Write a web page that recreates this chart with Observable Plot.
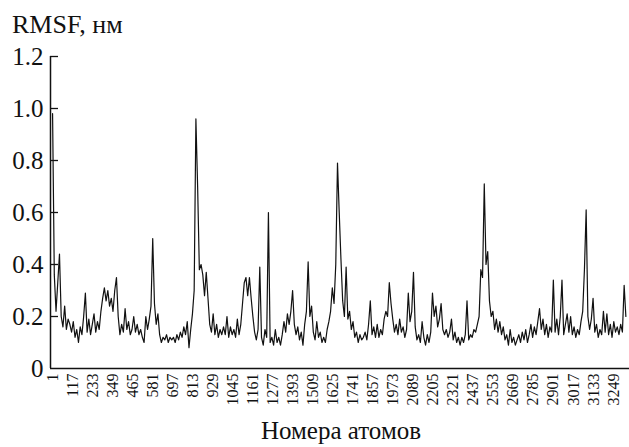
<!DOCTYPE html>
<html>
<head>
<meta charset="utf-8">
<script src="https://cdn.jsdelivr.net/npm/d3@7"></script>
<script src="https://cdn.jsdelivr.net/npm/@observablehq/plot@0.6"></script>
<style>
  html, body { margin: 0; padding: 0; background: #fff; }
  #chart svg { display: block; }
  #chart svg, #chart svg text { font-family: "Liberation Serif", "Times New Roman", serif !important; }
</style>
</head>
<body>
<div id="chart"></div>
<script>
// RMSF (nm) per atom, one value every 10 atoms starting at atom 1
const rmsf = [
  0.98, 0.36, 0.22, 0.33, 0.44, 0.20, 0.16, 0.24, 0.15, 0.19,
  0.17, 0.14, 0.18, 0.12, 0.15, 0.10, 0.16, 0.13, 0.20, 0.29,
  0.14, 0.19, 0.13, 0.17, 0.21, 0.14, 0.18, 0.15, 0.22, 0.27,
  0.31, 0.26, 0.30, 0.24, 0.27, 0.22, 0.30, 0.35, 0.20, 0.13,
  0.17, 0.14, 0.23, 0.15, 0.18, 0.13, 0.15, 0.20, 0.14, 0.17,
  0.13, 0.15, 0.12, 0.10, 0.20, 0.15, 0.19, 0.24, 0.50, 0.25,
  0.17, 0.21, 0.13, 0.10, 0.12, 0.11, 0.13, 0.10, 0.12, 0.11,
  0.12, 0.10, 0.13, 0.11, 0.14, 0.12, 0.16, 0.13, 0.18, 0.08,
  0.15, 0.21, 0.30, 0.96, 0.70, 0.38, 0.40, 0.36, 0.28, 0.37,
  0.27, 0.17, 0.14, 0.21, 0.13, 0.17, 0.12, 0.15, 0.13, 0.16,
  0.13, 0.20, 0.12, 0.16, 0.13, 0.15, 0.12, 0.19, 0.13, 0.17,
  0.25, 0.33, 0.35, 0.28, 0.35, 0.27, 0.20, 0.14, 0.11, 0.15,
  0.39, 0.12, 0.09, 0.15, 0.12, 0.60, 0.10, 0.12, 0.09, 0.15,
  0.10, 0.12, 0.09, 0.13, 0.18, 0.14, 0.21, 0.17, 0.22, 0.30,
  0.17, 0.13, 0.16, 0.11, 0.14, 0.09, 0.17, 0.22, 0.41, 0.20,
  0.24, 0.14, 0.11, 0.18, 0.12, 0.14, 0.10, 0.12, 0.10, 0.15,
  0.18, 0.22, 0.31, 0.25, 0.40, 0.79, 0.60, 0.42, 0.26, 0.20,
  0.39, 0.19, 0.22, 0.15, 0.18, 0.12, 0.14, 0.10, 0.13, 0.11,
  0.12, 0.14, 0.11, 0.17, 0.26, 0.13, 0.16, 0.12, 0.17, 0.12,
  0.15, 0.13, 0.19, 0.22, 0.20, 0.33, 0.25, 0.19, 0.14, 0.17,
  0.13, 0.19, 0.14, 0.16, 0.12, 0.15, 0.29, 0.18, 0.22, 0.37,
  0.16, 0.11, 0.13, 0.10, 0.18, 0.12, 0.09, 0.13, 0.10, 0.14,
  0.29, 0.20, 0.24, 0.16, 0.19, 0.25, 0.15, 0.13, 0.15, 0.12,
  0.14, 0.19, 0.11, 0.14, 0.10, 0.12, 0.09, 0.12, 0.10, 0.13,
  0.26, 0.11, 0.13, 0.12, 0.15, 0.14, 0.17, 0.20, 0.38, 0.35,
  0.71, 0.40, 0.45, 0.26, 0.20, 0.22, 0.15, 0.19, 0.14, 0.18,
  0.13, 0.16, 0.11, 0.13, 0.09, 0.15, 0.10, 0.12, 0.09, 0.11,
  0.13, 0.10, 0.14, 0.11, 0.15, 0.10, 0.13, 0.17, 0.12, 0.16,
  0.13, 0.18, 0.23, 0.15, 0.19, 0.13, 0.17, 0.12, 0.16, 0.14,
  0.34, 0.14, 0.19, 0.13, 0.20, 0.34, 0.13, 0.17, 0.21, 0.14,
  0.20, 0.13, 0.16, 0.12, 0.15, 0.13, 0.18, 0.22, 0.38, 0.61,
  0.20, 0.15, 0.19, 0.27, 0.14, 0.17, 0.12, 0.15, 0.13, 0.22,
  0.14, 0.21, 0.13, 0.17, 0.12, 0.18, 0.14, 0.16, 0.13, 0.17,
  0.14, 0.32, 0.20
];
const atomStep = 10;
const atoms = rmsf.map((_, i) => 1 + i * atomStep);

const xTicks = [1, 117, 233, 349, 465, 581, 697, 813, 929, 1045, 1161, 1277, 1393, 1509,
  1625, 1741, 1857, 1973, 2089, 2205, 2321, 2437, 2553, 2669, 2785, 2901, 3017, 3133, 3249];
const yTicks = [0, 0.2, 0.4, 0.6, 0.8, 1.0, 1.2];

const yTitle = "RMSF, нм";
const xTitle = "Номера атомов";

const W = 629, H = 447;

const chart = Plot.plot({
  width: W,
  height: H,
  marginLeft: 50,
  marginRight: 0,
  marginTop: 56,
  marginBottom: 79,
  style: { background: "#fff", color: "#111" },
  x: { domain: [-11, 3342], type: "linear" },
  y: { domain: [0, 1.2] },
  marks: [
    Plot.axisY(yTicks, {
      tickSize: 0, tickPadding: 7, fontSize: 25,
      tickFormat: d => d === 0 ? "0" : d.toFixed(1), label: null
    }),
    Plot.axisX(xTicks, {
      tickSize: 0, tickPadding: 5, fontSize: 16, tickRotate: -90,
      tickFormat: d => String(d), label: null
    }),
    Plot.ruleY(yTicks.slice(1), { stroke: "#111", strokeWidth: 1.3, insetRight: W - 50 - 8 }),
    Plot.lineY(rmsf, { x: atoms, y: rmsf, stroke: "#111", strokeWidth: 1.2 }),
    Plot.ruleX([-11], { stroke: "#111", strokeWidth: 1.5 }),
    Plot.ruleY([0], { stroke: "#111", strokeWidth: 1.5 })
  ]
});

document.getElementById("chart").appendChild(chart);

const svg = d3.select(chart);
svg.append("text")
  .attr("x", 12).attr("y", 33)
  .attr("text-anchor", "start")
  .attr("font-size", 26).attr("fill", "#111")
  .text(yTitle);
svg.append("text")
  .attr("x", 341).attr("y", 439)
  .attr("text-anchor", "middle")
  .attr("font-size", 25).attr("fill", "#111")
  .text(xTitle);
</script>
</body>
</html>
